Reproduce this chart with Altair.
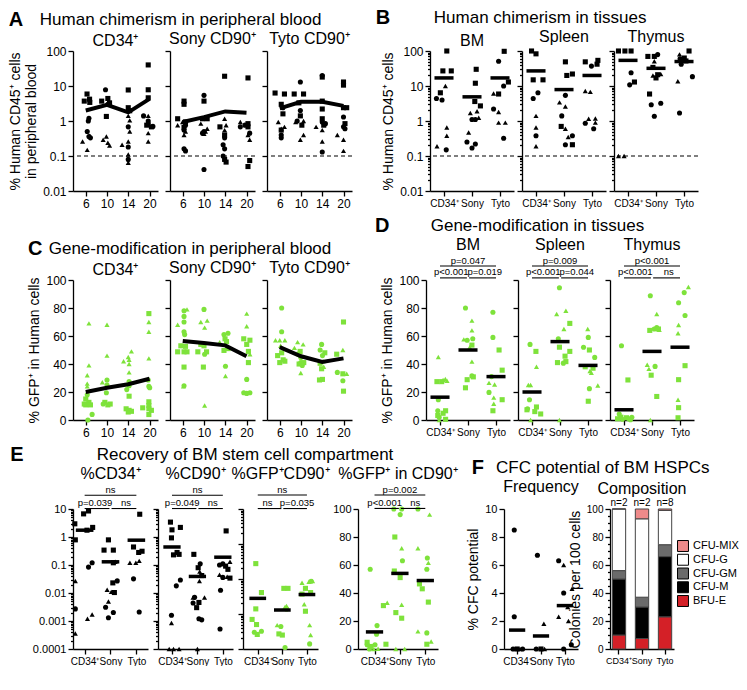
import json
import altair as alt
import pandas as pd

FONT = "Liberation Sans, Arial, Helvetica, sans-serif"
GREEN = "#7ee23b"
SP = "\u207a"

WEEK_LABELS = ["6", "10", "14", "20"]
GROUP_LABELS = ["CD34" + SP, "Sony", "Tyto"]

# ---------------- Panel A: human chimerism in peripheral blood (group, jitter, value, shape)
A_CD34 = [
    (0, -0.07, 3.7, "s"), (0, 0.18, 4.2, "s"), (0, 0.19, 3.4, "s"), (0, 0.06, 5.9, "s"), (0, 0.15, 1.2, "c"),
    (0, 0.12, 1.0, "c"), (0, 0.07, 0.5, "c"), (0, 0.15, 0.36, "c"), (0, 0.22, 0.33, "c"), (0, -0.15, 0.26, "t"),
    (0, 0.19, 0.38, "t"), (0, 0.07, 0.15, "t"),
    (1, -0.25, 3.7, "s"), (1, 0.04, 4.4, "s"), (1, 0.12, 3.3, "s"), (1, -0.03, 1.35, "s"), (1, -0.07, 7.8, "c"),
    (1, 0.04, 3.0, "c"), (1, -0.18, 0.29, "t"), (1, 0.04, 0.24, "t"), (1, 0.12, 0.2, "t"), (1, -0.03, 0.36, "t"),
    (2, 0, 7.7, "s"), (2, 0, 2.4, "s"), (2, 0.07, 1.96, "s"), (2, 0, 0.68, "c"), (2, 0, 0.18, "c"), (2, 0, 0.08, "c"),
    (2, 0, 1.4, "t"), (2, 0.07, 1.04, "t"), (2, 0.07, 0.5, "t"), (2, -0.29, 0.21, "t"), (2, 0, 0.26, "t"),
    (2, 0, 0.11, "t"), (2, 0, 0.064, "t"),
    (3, -0.06, 40, "s"), (3, -0.06, 7.8, "s"), (3, -0.06, 4.6, "s"), (3, 0.09, 0.68, "s"), (3, -0.13, 0.76, "s"),
    (3, -0.28, 1.4, "c"), (3, -0.06, 1.0, "c"), (3, -0.06, 0.85, "c"), (3, 0.16, 0.7, "c"), (3, -0.06, 1.4, "t"),
    (3, -0.06, 0.45, "t"), (3, -0.06, 0.26, "t"),
]
A_SONY = [
    (0, -0.24, 1.16, "s"), (0, 0.06, 3.7, "s"), (0, 0.06, 3.0, "s"), (0, 0.13, 0.94, "s"), (0, 0.06, 0.66, "s"),
    (0, 0.13, 0.76, "c"), (0, 0.06, 0.55, "c"), (0, 0.13, 0.14, "c"), (0, 0.06, 0.16, "c"), (0, -0.24, 0.76, "t"),
    (0, 0.06, 0.4, "t"), (0, 0.13, 0.5, "t"), (0, -0.01, 0.94, "t"),
    (1, 0, 3.7, "s"), (1, -0.07, 1.16, "s"), (1, 0.15, 1.16, "s"), (1, 0, 5.4, "c"), (1, 0, 0.5, "c"),
    (1, -0.07, 0.45, "c"), (1, 0, 0.041, "c"), (1, -0.15, 0.84, "t"), (1, 0.07, 0.5, "t"), (1, 0.15, 0.6, "t"),
    (1, 0, 0.43, "t"),
    (2, -0.03, 19, "s"), (2, -0.25, 0.68, "s"), (2, -0.03, 0.4, "s"), (2, -0.03, 0.08, "s"), (2, 0.04, 0.067, "s"),
    (2, -0.03, 0.33, "c"), (2, -0.1, 0.21, "c"), (2, -0.03, 0.16, "c"), (2, -0.1, 0.1, "c"), (2, -0.03, 1.16, "t"),
    (2, 0.04, 0.76, "t"), (2, -0.03, 0.55, "t"),
    (3, 0.07, 17, "s"), (3, 0.07, 0.84, "s"), (3, 0.07, 0.68, "s"), (3, 0.07, 0.05, "s"), (3, 0.15, 0.074, "s"),
    (3, -0.29, 0.68, "c"), (3, -0.07, 0.76, "c"), (3, 0.15, 0.45, "c"), (3, -0.29, 0.94, "t"), (3, 0.07, 0.4, "t"),
    (3, 0.15, 0.29, "t"),
]
A_TYTO = [
    (0, -0.22, 6.3, "s"), (0, 0.22, 5.9, "s"), (0, 0.07, 3.0, "s"), (0, 0.15, 1.6, "s"), (0, 0.07, 0.55, "s"),
    (0, 0.15, 2.4, "c"), (0, 0.07, 0.4, "c"), (0, 0.07, 0.33, "c"), (0, -0.07, 0.94, "t"), (0, 0.07, 0.6, "t"),
    (0, 0.22, 0.68, "t"),
    (1, -0.32, 5.9, "s"), (1, 0.12, 5.9, "s"), (1, -0.1, 3.3, "s"), (1, -0.03, 1.4, "s"), (1, 0.04, 0.76, "s"),
    (1, -0.03, 13, "c"), (1, -0.03, 2.0, "c"), (1, -0.18, 1.0, "c"), (1, -0.25, 0.94, "t"), (1, 0.12, 1.0, "t"),
    (1, 0.12, 0.4, "t"), (1, -0.03, 0.29, "t"),
    (2, 0, 18, "s"), (2, 0, 3.7, "s"), (2, 0, 2.2, "s"), (2, 0, 1.16, "s"), (2, 0.07, 0.76, "s"), (2, 0, 20, "c"),
    (2, 0, 0.94, "c"), (2, 0, 0.13, "c"), (2, 0.15, 0.84, "c"), (2, -0.29, 0.68, "t"), (2, 0, 0.55, "t"),
    (2, 0, 0.26, "t"),
    (3, 0, 13, "s"), (3, 0, 10.6, "s"), (3, 0, 2.4, "s"), (3, 0.15, 2.4, "s"), (3, 0.07, 0.84, "s"), (3, 0, 1.3, "c"),
    (3, 0, 0.68, "c"), (3, 0.07, 0.6, "c"), (3, -0.29, 0.4, "t"), (3, 0, 0.29, "t"), (3, 0, 0.14, "t"),
]
A_LINE_CD34 = [2.0, 2.9, 1.77, 4.3]
A_LINE_SONY = [0.94, 1.29, 1.88, 1.73]
A_LINE_TYTO = [2.3, 3.55, 3.55, 2.7]

# ---------------- Panel B: human chimerism in tissues
B_BM = [
    (0, 0.1, 100, "s"), (0, -0.04, 27, "s"), (0, 0.26, 27, "s"), (0, -0.27, 4.4, "c"), (0, -0.07, 4.0, "c"),
    (0, -0.13, 6.4, "s"), (0, 0.05, 10, "t"), (0, -0.25, 0.19, "t"), (0, 0.1, 0.65, "t"), (0, 0.1, 0.38, "t"),
    (0, 0.08, 0.15, "c"),
    (1, 0.15, 30, "s"), (1, 0.12, 12, "s"), (1, -0.06, 1.7, "t"), (1, 0.1, 3.6, "s"), (1, 0.3, 2.7, "s"),
    (1, 0.18, 1.9, "t"), (1, 0.0, 1.1, "c"), (1, 0.12, 1.1, "c"), (1, 0.24, 1.24, "t"), (1, -0.12, 0.47, "t"),
    (1, -0.18, 0.25, "c"), (1, 0.0, 0.17, "c"), (1, 0.12, 0.22, "c"),
    (2, 0.15, 98, "s"), (2, -0.05, 51, "c"), (2, 0.3, 13, "s"), (2, -0.23, 6.1, "t"), (2, -0.05, 5.9, "s"),
    (2, -0.23, 2.2, "c"), (2, -0.05, 1.8, "t"), (2, -0.05, 0.9, "t"), (2, 0.19, 0.9, "t"), (2, 0.13, 0.32, "c"),
    (2, 0.13, 10, "c"),
]
B_SPLEEN = [
    (0, -0.16, 100, "s"), (0, 0, 83, "s"), (0, -0.1, 4.4, "c"), (0, -0.1, 15, "s"), (0, 0.25, 15, "s"),
    (0, 0.07, 6.4, "c"), (0, 0, 1.4, "t"), (0, 0, 0.65, "t"), (0, 0, 0.38, "c"), (0, 0, 0.19, "t"),
    (1, 0.05, 49, "s"), (1, -0.16, 3.4, "t"), (1, 0.05, 5.4, "c"), (1, 0.1, 20, "s"), (1, 0.3, 22, "s"),
    (1, 0.05, 2.6, "t"), (1, -0.08, 1.4, "c"), (1, -0.1, 0.7, "s"), (1, 0.05, 0.6, "t"), (1, 0.15, 0.35, "t"),
    (1, 0.3, 0.38, "c"), (1, 0.05, 0.21, "c"), (1, 0.3, 0.21, "s"),
    (2, -0.24, 49, "s"), (2, -0.02, 37, "c"), (2, 0.18, 42, "s"), (2, 0.21, 54, "s"), (2, -0.24, 7.2, "t"),
    (2, -0.06, 6.8, "t"), (2, -0.24, 0.86, "c"), (2, -0.12, 1.16, "t"), (2, 0.12, 1.18, "t"), (2, 0.06, 0.6, "c"),
    (2, 0.12, 0.9, "t"),
]
B_THYMUS = [
    (0, -0.34, 100, "s"), (0, -0.11, 100, "s"), (0, 0.11, 100, "s"), (0, 0.11, 24, "c"), (0, 0.06, 10.8, "c"),
    (0, 0.23, 13, "s"), (0, -0.34, 0.1, "t"), (0, -0.14, 0.1, "t"),
    (1, -0.29, 70, "s"), (1, -0.06, 70, "s"), (1, 0.06, 79, "c"), (1, -0.06, 51, "t"), (1, -0.11, 34, "s"),
    (1, -0.11, 20, "t"), (1, 0.06, 21, "s"), (1, 0.17, 22, "t"), (1, 0.0, 17, "s"), (1, -0.23, 5.9, "s"),
    (1, -0.17, 2.9, "c"), (1, 0.17, 3.2, "c"), (1, -0.06, 1.37, "c"),
    (2, -0.16, 80, "t"), (2, 0.01, 63, "s"), (2, -0.14, 60, "c"), (2, 0.18, 100, "s"), (2, -0.1, 42, "c"),
    (2, 0.07, 52, "s"), (2, -0.22, 13.7, "t"), (2, 0.3, 18.5, "c"), (2, -0.16, 1.7, "c"),
]
B_MED_BM = [17, 4.9, 17]
B_MED_SPLEEN = [27, 7.9, 20]
B_MED_THYMUS = [54, 32, 50]

# ---------------- Panel C: gene modification in peripheral blood
C_CD34 = [
    (0, 0.15, 69, "t"), (0, 0.15, 39, "t"), (0, 0.07, 32, "t"), (0, 0.07, 26, "t"), (0, 0.07, 24, "t"),
    (0, 0.07, 18, "c"), (0, 0, 15, "s"), (0, 0.15, 12.6, "s"), (0, 0.07, 11.4, "c"), (0, 0, 10.8, "s"),
    (0, 0.22, 10.8, "s"), (0, 0.3, 4, "c"), (0, 0.1, 0, "c"), (0, -0.07, 11.4, "s"),
    (1, 0, 68, "t"), (1, 0, 46, "t"), (1, -0.22, 27, "t"), (1, 0, 28.6, "c"), (1, 0, 25, "c"), (1, -0.03, 19.5, "c"),
    (1, -0.1, 12.6, "s"), (1, 0.04, 10.8, "s"), (1, -0.18, 11.4, "c"), (1, 0.15, 11.4, "s"),
    (2, -0.22, 42, "t"), (2, 0.04, 43, "t"), (2, 0.15, 49, "t"), (2, 0, 45, "t"), (2, 0.04, 40, "t"),
    (2, 0.04, 34, "t"), (2, 0.04, 24.5, "c"), (2, 0.04, 27.5, "c"), (2, -0.07, 21.7, "c"), (2, 0.04, 17, "s"),
    (2, -0.1, 8, "s"), (2, 0.04, 6.9, "s"), (2, 0.15, 6.2, "s"), (2, 0, 5.7, "s"),
    (3, -0.03, 76, "s"), (3, -0.03, 70, "t"), (3, -0.03, 63, "t"), (3, -0.03, 44, "t"), (3, -0.06, 28.6, "c"),
    (3, -0.03, 24, "c"), (3, 0.01, 23, "c"), (3, -0.03, 13, "s"), (3, -0.03, 10.3, "s"), (3, -0.03, 8, "s"),
    (3, -0.32, 8.7, "s"), (3, 0.09, 6.9, "s"), (3, -0.03, 3.9, "s"),
]
C_SONY = [
    (0, -0.24, 68, "t"), (0, 0.06, 78, "c"), (0, 0.2, 79, "t"), (0, 0.06, 74, "c"), (0, 0.06, 70, "c"),
    (0, 0.06, 63, "c"), (0, 0.09, 61, "c"), (0, -0.09, 53, "s"), (0, 0.13, 52.6, "s"), (0, -0.24, 48.7, "s"),
    (0, 0.06, 48.7, "s"), (0, 0.2, 48.7, "s"), (0, 0.06, 37.8, "s"), (0, 0.03, 24, "t"), (0, 0.06, 24.5, "c"),
    (1, 0, 79, "c"), (1, -0.15, 70, "t"), (1, 0.15, 71, "t"), (1, 0.03, 66, "t"), (1, -0.29, 48.7, "s"),
    (1, 0, 53, "s"), (1, 0.03, 47, "c"), (1, 0.12, 48.7, "s"), (1, -0.03, 37.8, "s"), (1, 0.03, 10.3, "t"),
    (1, -0.15, 54, "s"),
    (2, -0.26, 55.6, "t"), (2, -0.06, 61, "c"), (2, 0.13, 62, "c"), (2, -0.01, 58, "s"), (2, 0.06, 56, "s"),
    (2, -0.06, 49.7, "s"), (2, 0.01, 38.4, "c"), (2, 0.01, 31.4, "t"), (2, 0.13, 51, "s"),
    (3, 0.01, 76, "t"), (3, 0.01, 67, "t"), (3, -0.13, 58, "s"), (3, 0.16, 57, "s"), (3, 0.01, 54, "s"),
    (3, 0.09, 49, "s"), (3, 0.16, 47, "t"), (3, 0.09, 41, "s"), (3, 0.01, 29, "c"), (3, -0.13, 19.5, "c"),
    (3, 0.01, 19, "c"), (3, 0.16, 19.5, "c"),
]
C_TYTO = [
    (0, 0.09, 80, "c"), (0, 0.09, 63, "c"), (0, -0.2, 57, "t"), (0, 0, 57, "t"), (0, 0.24, 57, "t"),
    (0, -0.1, 46, "s"), (0, 0.09, 48, "s"), (0, 0.16, 43, "s"), (0, 0, 41, "s"), (0, 0.24, 42, "s"), (0, 0.04, 53, "t"),
    (1, -0.16, 55.6, "t"), (1, 0.1, 54, "t"), (1, -0.31, 51.5, "t"), (1, -0.04, 49, "s"), (1, -0.09, 47, "s"),
    (1, -0.01, 44.6, "c"), (1, -0.01, 41, "c"), (1, -0.09, 40, "s"), (1, 0.06, 39, "c"), (1, -0.01, 33.6, "t"),
    (1, 0.13, 41, "s"),
    (2, -0.03, 54, "c"), (2, -0.1, 50, "c"), (2, 0.12, 48, "s"), (2, 0.01, 46, "c"), (2, 0.04, 42, "t"),
    (2, -0.1, 40.5, "s"), (2, 0.07, 38, "t"), (2, -0.03, 36.6, "s"), (2, 0.01, 29, "s"), (2, -0.13, 28.6, "s"),
    (3, 0, 70, "s"), (3, -0.03, 50, "t"), (3, -0.32, 47, "s"), (3, -0.29, 34, "c"), (3, -0.03, 33, "s"),
    (3, 0.15, 33, "t"), (3, -0.03, 28, "c"), (3, 0, 20.6, "s"),
]
C_LINE_CD34 = [20, 23, 25.5, 29.5]
C_LINE_SONY = [56.5, 55, 53.3, 45.5]
C_LINE_TYTO = [52, 45.5, 41.5, 44]

# ---------------- Panel D: gene modification in tissues
D_BM = [
    (0, -0.06, 45, "t"), (0, -0.11, 27.4, "s"), (0, 0.06, 27.4, "s"), (0, 0.11, 28.6, "t"), (0, 0.19, 29.3, "t"),
    (0, 0.25, 28, "t"), (0, -0.06, 14.5, "c"), (0, -0.08, 6.6, "c"), (0, -0.08, 3.2, "s"), (0, 0.11, 4.8, "s"),
    (0, 0.2, 6.6, "s"), (0, -0.03, 0, "t"), (0, 0.2, 0.5, "s"), (0, -0.03, 2, "c"),
    (1, -0.09, 80, "c"), (1, 0.14, 71, "t"), (1, 0.14, 64, "t"), (1, -0.15, 57.6, "t"), (1, -0.03, 57, "c"),
    (1, 0.17, 58, "c"), (1, 0.06, 52, "t"), (1, 0.14, 53.5, "s"), (1, 0.14, 41.7, "t"), (1, 0.14, 31.5, "c"),
    (1, 0.19, 30.8, "s"), (1, -0.03, 28.8, "s"), (1, -0.09, 23, "s"),
    (2, -0.11, 77, "c"), (2, -0.11, 59, "c"), (2, 0.11, 50, "s"), (2, 0.22, 35.6, "s"), (2, -0.25, 26.5, "t"),
    (2, -0.16, 31, "c"), (2, -0.05, 25.4, "t"), (2, -0.25, 19.7, "c"), (2, -0.08, 16, "t"), (2, -0.08, 11.6, "t"),
    (2, 0.22, 14.5, "s"), (2, -0.11, 6.6, "s"),
]
D_SPLEEN = [
    (0, -0.07, 54, "c"), (0, 0.14, 49, "s"), (0, 0.16, 38, "t"), (0, -0.13, 25, "t"), (0, -0.05, 25, "t"),
    (0, -0.09, 14.5, "c"), (0, -0.16, 8, "c"), (0, 0.16, 9.3, "s"), (0, 0.1, 6, "s"), (0, 0.31, 4.3, "s"),
    (0, -0.18, 7.3, "s"), (0, -0.05, 0, "t"),
    (1, -0.02, 94.5, "c"), (1, -0.12, 75.7, "t"), (1, 0.21, 78, "t"), (1, 0.14, 65, "t"), (1, 0.35, 69, "s"),
    (1, -0.02, 52, "s"), (1, -0.06, 58, "c"), (1, 0.35, 49, "s"), (1, 0.18, 45.6, "s"), (1, 0.12, 40.6, "c"),
    (1, -0.09, 41, "s"), (1, 0.21, 41.7, "s"), (1, -0.02, 0, "t"),
    (2, -0.01, 65, "t"), (2, 0.01, 59, "c"), (2, -0.16, 52, "c"), (2, 0.05, 50, "s"), (2, 0.24, 44.7, "c"),
    (2, -0.1, 38, "s"), (2, 0.07, 35, "t"), (2, 0.12, 33.8, "t"), (2, 0.18, 37, "s"), (2, 0.05, 22.4, "c"),
    (2, 0.35, 24.7, "t"), (2, 0.01, 13.4, "s"),
]
D_THYMUS = [
    (0, -0.09, 53, "c"), (0, 0.14, 28.6, "s"), (0, -0.17, 4.3, "c"), (0, -0.11, 2, "s"), (0, -0.06, 0.5, "c"),
    (0, 0.09, 1.6, "s"), (0, 0.17, 0.9, "c"), (0, 0.28, 2, "c"), (0, 0.23, 0.2, "c"), (0, -0.23, 0.9, "s"),
    (1, -0.06, 88.7, "c"), (1, 0.17, 75.7, "t"), (1, -0.08, 64, "s"), (1, 0.08, 65, "c"), (1, 0.17, 66, "c"),
    (1, 0.26, 64.4, "t"), (1, 0.23, 65, "s"), (1, -0.17, 39.5, "t"), (1, 0.11, 38.3, "c"), (1, -0.11, 36.5, "t"),
    (1, -0.03, 32, "s"), (1, 0.17, 16.8, "s"), (1, -0.06, 0, "t"),
    (2, 0.3, 95, "t"), (2, 0.15, 91, "c"), (2, -0.05, 83.7, "c"), (2, 0.18, 74.6, "c"), (2, -0.05, 67.8, "t"),
    (2, -0.07, 62, "t"), (2, 0.18, 38.8, "s"), (2, -0.05, 28.8, "s"), (2, -0.07, 14.5, "t"), (2, -0.05, 8.8, "s"),
    (2, -0.07, 1.6, "s"),
]
D_MED_BM = [16.3, 50, 31]
D_MED_SPLEEN = [20, 56, 39]
D_MED_THYMUS = [7.3, 49, 52]
D_P_BM = ["p=0.047", "p<0.001", "p=0.019"]
D_P_SPLEEN = ["p=0.009", "p<0.001", "p=0.044"]
D_P_THYMUS = ["p<0.001", "p<0.001", "ns"]

# ---------------- Panel E: recovery of BM stem cell compartment
E_CD34 = [
    (0, -0.38, 2.96, "s"), (0, -0.36, 0.79, "s"), (0, 0.15, 8.5, "s"), (0, -0.04, 6.7, "s"), (0, 0.31, 2.2, "s"),
    (0, 0.09, 1.75, "s"), (0, 0.15, 0.084, "c"), (0, 0.29, 0.12, "c"), (0, -0.36, 0.027, "t"),
    (0, -0.36, 0.0027, "c"), (0, 0.11, 0.0012, "t"), (0, 0.29, 0.0017, "t"), (0, -0.36, 0.00036, "t"),
    (1, -0.08, 0.79, "s"), (1, -0.25, 0.34, "s"), (1, 0.11, 0.34, "s"), (1, 0.11, 0.12, "s"), (1, 0.18, 0.13, "t"),
    (1, 0.09, 0.023, "s"), (1, 0.26, 0.027, "c"), (1, -0.13, 0.013, "t"), (1, 0.03, 0.011, "t"),
    (1, 0.15, 0.0104, "s"), (1, -0.08, 0.005, "t"), (1, -0.19, 0.0031, "c"), (1, -0.08, 0.0013, "c"),
    (1, 0.11, 0.002, "c"),
    (2, 0.13, 6.5, "s"), (2, -0.11, 0.44, "s"), (2, 0.09, 0.28, "s"), (2, 0.22, 0.31, "s"), (2, -0.25, 0.12, "t"),
    (2, -0.02, 0.12, "t"), (2, 0.11, 0.14, "t"), (2, -0.11, 0.032, "c"), (2, 0.11, 0.0021, "c"),
]
E_CD90 = [
    (0, -0.02, 0.93, "s"), (0, 0, 1.8, "s"), (0, -0.06, 3.4, "s"), (0, 0.33, 2.2, "s"), (0, 0.2, 0.28, "s"),
    (0, 0.28, 0.24, "s"), (0, 0.06, 0.23, "s"), (0, 0.33, 0.029, "c"), (0, 0.17, 0.018, "c"),
    (0, -0.02, 0.0016, "c"), (0, -0.02, 0.00085, "t"), (0, -0.11, 0.0001, "t"), (0, 0.06, 0.0001, "t"),
    (0, 0.28, 0.0001, "t"),
    (1, -0.14, 0.24, "s"), (1, 0.11, 0.11, "c"), (1, 0.03, 0.08, "s"), (1, 0.09, 0.058, "t"), (1, 0.17, 0.042, "s"),
    (1, 0.08, 0.027, "t"), (1, -0.17, 0.0069, "t"), (1, -0.11, 0.007, "c"), (1, 0.28, 0.0069, "t"),
    (1, 0.06, 0.0046, "s"), (1, -0.17, 0.0044, "c"), (1, -0.03, 0.003, "s"), (1, 0.06, 0.0012, "c"),
    (1, 0.17, 0.0011, "c"), (1, 0, 0.0001, "t"),
    (2, 0.13, 1.65, "s"), (2, 0.28, 0.13, "t"), (2, -0.13, 0.1, "c"), (2, 0, 0.11, "c"), (2, 0.11, 0.091, "s"),
    (2, 0.2, 0.07, "s"), (2, -0.13, 0.045, "t"), (2, 0, 0.036, "c"), (2, 0.17, 0.038, "t"), (2, -0.09, 0.0125, "c"),
    (2, -0.11, 0.00052, "c"), (2, 0.28, 0.034, "s"),
]
E_GFPCD90 = [
    (0, -0.08, 0.0275, "s"), (0, 0.15, 0.0041, "s"), (0, -0.08, 0.0014, "s"), (0, -0.23, 0.0007, "s"),
    (0, -0.05, 0.0005, "s"), (0, -0.14, 0.0003, "c"), (0, -0.02, 0.00026, "s"), (0, 0.15, 0.00032, "c"),
    (1, 0.06, 0.0054, "s"), (1, 0.23, 0.0054, "s"), (1, 0.17, 0.0017, "t"), (1, 0.11, 0.0016, "t"),
    (1, 0.17, 0.0014, "c"), (1, -0.21, 0.00048, "t"), (1, -0.06, 0.00044, "c"), (1, -0.14, 0.00027, "s"),
    (1, 0, 0.00025, "s"), (1, 0.11, 0.00011, "c"),
    (2, -0.2, 0.0078, "t"), (2, 0.08, 0.0083, "t"), (2, 0.23, 0.0088, "t"), (2, 0.17, 0.0086, "c"),
    (2, -0.06, 0.0054, "s"), (2, 0.15, 0.0041, "s"), (2, -0.2, 0.0037, "s"), (2, -0.11, 0.0019, "t"),
    (2, -0.06, 0.0012, "s"), (2, 0.11, 0.00048, "t"), (2, 0.15, 0.00025, "t"), (2, 0.11, 0.00014, "c"),
]
E_GFP_IN_CD90 = [
    (0, -0.17, 57, "c"), (0, 0.35, 31, "s"), (0, 0.5, 33, "t"), (0, 0.1, 16.7, "c"), (0, 0.08, 10.5, "c"),
    (0, -0.29, 4.8, "s"), (0, -0.15, 1.8, "s"), (0, -0.29, 3, "c"), (0, 0.02, 3, "c"), (0, 0.45, 3.4, "s"),
    (0, 0.14, 0.2, "t"), (0, -0.2, 0, "c"), (0, -0.03, 0, "t"),
    (1, -0.24, 100, "c"), (1, 0.07, 100, "c"), (1, 0.01, 96, "c"), (1, -0.2, 80, "s"), (1, 0.07, 72, "t"),
    (1, 0.1, 63, "c"), (1, -0.22, 55.7, "s"), (1, 0.01, 51, "s"), (1, 0.07, 31.6, "t"), (1, -0.16, 26, "s"),
    (1, 0.07, 22, "s"), (1, -0.16, 0, "t"), (1, 0.19, 0, "t"),
    (2, -0.29, 100, "c"), (2, 0.17, 96, "t"), (2, -0.29, 72, "t"), (2, 0.08, 65, "c"), (2, 0.06, 57, "c"),
    (2, 0.12, 61.5, "t"), (2, -0.23, 46.5, "s"), (2, -0.12, 43, "s"), (2, 0.12, 33.5, "s"), (2, -0.29, 12.6, "t"),
    (2, 0.06, 11.5, "c"), (2, 0.06, 3.4, "s"), (2, 0.23, 5.3, "t"),
]
E_MED_CD34 = [1.75, 0.13, 0.77]
E_MED_CD90 = [0.44, 0.039, 0.19]
E_MED_GFPCD90 = [0.0028, 0.0013, 0.0036]
E_MED_GFP_IN_CD90 = [12.2, 54, 48.9]
E_P_CD34 = ["ns", "p=0.039", "ns"]
E_P_CD90 = ["ns", "p=0.049", "ns"]
E_P_GFPCD90 = ["ns", "ns", "p=0.035"]
E_P_GFP_IN_CD90 = ["p=0.002", "p<0.001", "ns"]

# ---------------- Panel F: CFC potential
F_FREQ = [
    (0, -0.12, 8.5, "c"), (0, -0.12, 2.3, "c"), (0, -0.17, 0, "c"), (0, 0, 0, "s"), (0, 0.12, 0, "t"), (0, 0.23, 0, "c"),
    (1, -0.15, 6.7, "c"), (1, 0.12, 1.8, "t"), (1, -0.2, 0, "c"), (1, 0, 0, "s"), (1, 0.15, 0, "t"),
    (2, -0.26, 6.3, "c"), (2, -0.05, 6.0, "t"), (2, 0.3, 4.3, "t"), (2, -0.05, 4.0, "c"), (2, -0.26, 2.3, "t"),
    (2, 0.15, 2.0, "t"), (2, 0.12, 3.0, "t"), (2, 0.27, 0.3, "c"), (2, -0.05, 0, "c"),
]
F_MED = [1.35, 0.93, 3.1]
COLONY_TYPES = ["BFU-E", "CFU-M", "CFU-GM", "CFU-G", "CFU-MIX"]
COLONY_COLORS = ["#d42027", "#000000", "#6b6b6b", "#ffffff", "#ee8a8a"]
BFU_E = [10, 7.5, 23]
CFU_M = [40, 22.5, 43]
CFU_GM = [6, 7, 8.5]
CFU_G = [44, 56, 24.5]
CFU_MIX = [0, 7, 1]
N_LABELS = ["n=2", "n=2", "n=8"]

# ---------------- helpers
SHAPE_SCALE = alt.Scale(domain=["c", "s", "t"], range=["circle", "square", "triangle-up"])
MAJOR = "abs(log(datum.value)/LN10 - round(log(datum.value)/LN10)) < 0.01"


def log_axis(lo, hi, minor, labels, title=None, label_size=12):
    vals = []
    for e in range(lo, hi):
        for k in (range(1, 10) if minor else [1]):
            vals.append(float(f"{k}e{e}"))
    vals.append(float(f"1e{hi}"))
    kw = dict(values=vals, labels=labels, title=title, labelOverlap=False, labelFlush=False,
              labelFontSize=label_size)
    if minor:
        kw["tickSize"] = {"condition": {"test": MAJOR, "value": 5}, "value": 2.5}
    if labels:
        kw["labelExpr"] = f"{MAJOR} ? format(datum.value, '~g') : ''"
    return alt.Axis(**kw)


def lin_axis(hi, step, labels, title=None, minor=None, label_size=12):
    kw = dict(labels=labels, title=title, labelOverlap=False, labelFlush=False, labelFontSize=label_size)
    if minor:
        n = int(round(hi / minor))
        kw["values"] = [i * minor for i in range(n + 1)]
        test = f"datum.value % {step} == 0"
        kw["tickSize"] = {"condition": {"test": test, "value": 5}, "value": 2.5}
        if labels:
            kw["labelExpr"] = f"{test} ? datum.label : ''"
    else:
        n = int(round(hi / step))
        kw["values"] = [i * step for i in range(n + 1)]
    return alt.Axis(**kw)


def panel(points, color, yscale, yaxis, xdomain, xlabels, width, height, title,
          xlabel_size=12, line=None, medians=None, annots=None, dash=None, title_offset=3):
    df = pd.DataFrame(points, columns=["g", "dx", "v", "s"])
    df["x"] = df["g"] + df["dx"]
    xscale = alt.Scale(domain=xdomain, nice=False, zero=False)
    xaxis = alt.Axis(values=list(range(len(xlabels))),
                     labelExpr=json.dumps(xlabels, ensure_ascii=False) + "[datum.value]",
                     title=None, labelFontSize=xlabel_size, labelFlush=False, labelOverlap=False)

    def X(f):
        return alt.X(f, scale=xscale, axis=xaxis)

    def Y(f):
        return alt.Y(f, scale=yscale, axis=yaxis)

    layers = []
    if dash is not None:
        layers.append(alt.Chart(pd.DataFrame({"v": [dash]})).mark_rule(
            color="black", strokeDash=[4, 3], strokeWidth=1.2).encode(y=Y("v:Q")))
    layers.append(alt.Chart(df).mark_point(filled=True, size=26, opacity=1, color=color).encode(
        x=X("x:Q"), y=Y("v:Q"), shape=alt.Shape("s:N", scale=SHAPE_SCALE, legend=None)))
    if line is not None:
        dl = pd.DataFrame({"x": list(range(len(line))), "v": line})
        layers.append(alt.Chart(dl).mark_line(color="black", strokeWidth=4).encode(x=X("x:Q"), y=Y("v:Q")))
    if medians is not None:
        dm = pd.DataFrame({"g": list(range(len(medians))), "v": medians})
        layers.append(alt.Chart(dm).transform_calculate(
            x1="datum.g - 0.34", x2="datum.g + 0.34").mark_rule(color="black", strokeWidth=3.5).encode(
            x=X("x1:Q"), x2="x2:Q", y=Y("v:Q")))
    if annots is not None:
        da = pd.DataFrame(annots, columns=["x1", "x2", "y", "tx", "label"])
        layers.append(alt.Chart(da).mark_rule(color="black", strokeWidth=1.1).encode(
            x=X("x1:Q"), x2="x2:Q", y=Y("y:Q")))
        layers.append(alt.Chart(da).mark_text(
            fontSize=9.5, baseline="bottom", dy=-0.5, color="black").encode(
            x=X("tx:Q"), y=Y("y:Q"), text="label:N"))
    return alt.layer(*layers).properties(
        width=width, height=height,
        title=alt.TitleParams(title, fontSize=16, offset=title_offset, fontWeight="normal"))


def annots3(labels, ylow, yup):
    return [(0, 2, yup, 1.0, labels[0]), (0, 0.96, ylow, 0.4, labels[1]), (1.04, 2, ylow, 1.6, labels[2])]


def letter_title(letter, dx=0):
    return alt.TitleParams(letter, orient="top", anchor="start", fontSize=20, fontWeight="bold",
                           offset=-19, dx=dx)


def group_title(text):
    return alt.TitleParams(text, fontSize=17, offset=2, fontWeight="normal", anchor="middle")


def group(charts, spacing, text, letter, letter_dx=0):
    inner = alt.hconcat(*charts, spacing=spacing, bounds="flush").properties(title=group_title(text))
    return alt.vconcat(inner).properties(title=letter_title(letter, letter_dx))


H = 140
A_W, B_W = 85, 84
XD_W = [-0.6, 3.4]
XD_G = [-0.5, 2.5]
LBL_OFF = -4  # subtitle offset above panels whose top y label sticks out

# ---------------- Row 1
a_log = alt.Scale(type="log", domain=[0.01, 100], nice=False)
a1 = panel(A_CD34, "black", a_log, log_axis(-2, 2, False, True, ["% Human CD45" + SP + " cells", "in peripheral blood"]),
           XD_W, WEEK_LABELS, A_W, H, "CD34" + SP, line=A_LINE_CD34, dash=0.1, title_offset=LBL_OFF)
a2 = panel(A_SONY, "black", a_log, log_axis(-2, 2, False, False), XD_W, WEEK_LABELS, A_W, H,
           "Sony CD90" + SP, line=A_LINE_SONY, dash=0.1)
a3 = panel(A_TYTO, "black", a_log, log_axis(-2, 2, False, False), XD_W, WEEK_LABELS, A_W, H,
           "Tyto CD90" + SP, line=A_LINE_TYTO, dash=0.1)
rowA = group([a1, a2, a3], 12, "Human chimerism in peripheral blood", "A")

b1 = panel(B_BM, "black", a_log, log_axis(-2, 2, True, True, "% Human CD45" + SP + " cells"), XD_G, GROUP_LABELS,
           B_W, H, "BM", xlabel_size=10, medians=B_MED_BM, dash=0.1, title_offset=LBL_OFF)
b2 = panel(B_SPLEEN, "black", a_log, log_axis(-2, 2, True, False), XD_G, GROUP_LABELS, B_W, H, "Spleen",
           xlabel_size=10, medians=B_MED_SPLEEN, dash=0.1)
b3 = panel(B_THYMUS, "black", a_log, log_axis(-2, 2, True, False), XD_G, GROUP_LABELS, B_W, H, "Thymus",
           xlabel_size=10, medians=B_MED_THYMUS, dash=0.1)
rowB = group([b1, b2, b3], 8, "Human chimerism in tissues", "B", letter_dx=-6)

row1 = alt.concat(rowA, rowB, columns=2, spacing=22, align="none")

# ---------------- Row 2
c_lin = alt.Scale(domain=[0, 100], nice=False)
c1 = panel(C_CD34, GREEN, c_lin, lin_axis(100, 20, True, "% GFP" + SP + " in Human cells"), XD_W, WEEK_LABELS,
           A_W, H, "CD34" + SP, line=C_LINE_CD34, title_offset=LBL_OFF)
c2 = panel(C_SONY, GREEN, c_lin, lin_axis(100, 20, False), XD_W, WEEK_LABELS, A_W, H, "Sony CD90" + SP,
           line=C_LINE_SONY)
c3 = panel(C_TYTO, GREEN, c_lin, lin_axis(100, 20, False), XD_W, WEEK_LABELS, A_W, H, "Tyto CD90" + SP,
           line=C_LINE_TYTO)
rowC = group([c1, c2, c3], 12, "Gene-modification in peripheral blood", "C")

d1 = panel(D_BM, GREEN, c_lin, lin_axis(100, 20, True, "% GFP" + SP + " in Human cells"), XD_G, GROUP_LABELS,
           B_W, H, "BM", xlabel_size=10, medians=D_MED_BM, annots=annots3(D_P_BM, 101.5, 110))
d2 = panel(D_SPLEEN, GREEN, c_lin, lin_axis(100, 20, False), XD_G, GROUP_LABELS, B_W, H, "Spleen",
           xlabel_size=10, medians=D_MED_SPLEEN, annots=annots3(D_P_SPLEEN, 101.5, 110))
d3 = panel(D_THYMUS, GREEN, c_lin, lin_axis(100, 20, False), XD_G, GROUP_LABELS, B_W, H, "Thymus",
           xlabel_size=10, medians=D_MED_THYMUS, annots=annots3(D_P_THYMUS, 101.5, 110))
rowD = group([d1, d2, d3], 8, "Gene-modification in tissues", "D", letter_dx=-6)

row2 = alt.concat(rowC, rowD, columns=2, spacing=22, align="none")

# ---------------- Row 3
e_log = alt.Scale(type="log", domain=[0.0001, 10], nice=False)
e3_log = alt.Scale(type="log", domain=[0.0001, 1], nice=False)
E_W = 75
e1 = panel(E_CD34, "black", e_log, log_axis(-4, 1, True, True, label_size=11), [-0.45, 2.45], GROUP_LABELS, E_W, H,
           "%CD34" + SP, xlabel_size=10, medians=E_MED_CD34, annots=annots3(E_P_CD34, 10.4, 31))
e2 = panel(E_CD90, "black", e_log, log_axis(-4, 1, True, False), [-0.55, 2.4], GROUP_LABELS, E_W, H,
           "%CD90" + SP, xlabel_size=10, medians=E_MED_CD90, annots=annots3(E_P_CD90, 10.4, 31))
e3 = panel(E_GFPCD90, GREEN, e3_log, log_axis(-4, 0, True, False), [-0.6, 2.45], GROUP_LABELS, E_W, H,
           "%GFP" + SP + "CD90" + SP, xlabel_size=10, medians=E_MED_GFPCD90,
           annots=annots3(E_P_GFPCD90, 1.03, 2.5))
e4 = panel(E_GFP_IN_CD90, GREEN, c_lin, lin_axis(100, 20, True, label_size=11), [-0.65, 2.5], GROUP_LABELS, 80, H,
           "%GFP" + SP + " in CD90" + SP, xlabel_size=10, medians=E_MED_GFP_IN_CD90,
           annots=annots3(E_P_GFP_IN_CD90, 100.4, 110))
e123 = alt.hconcat(e1, e2, e3, spacing=10, bounds="flush")
rowE = alt.vconcat(alt.hconcat(e123, e4, spacing=2).properties(
    title=group_title("Recovery of BM stem cell compartment"))).properties(title=letter_title("E", dx=-22))

f1 = panel(F_FREQ, "black", alt.Scale(domain=[0, 10], nice=False),
           lin_axis(10, 2, True, "% CFC potential", label_size=11),
           [-0.55, 2.55], GROUP_LABELS, 74, H, "Frequency", xlabel_size=10, medians=F_MED, title_offset=8)

comp_rows = []
for ti, (tname, vals) in enumerate(zip(COLONY_TYPES, [BFU_E, CFU_M, CFU_GM, CFU_G, CFU_MIX])):
    for ci, cat in enumerate(GROUP_LABELS):
        comp_rows.append({"cat": cat, "type": tname, "idx": ti, "val": vals[ci]})
comp_df = pd.DataFrame(comp_rows)
legend_order = COLONY_TYPES[::-1]
legend_colors = COLONY_COLORS[::-1]
color_scale = alt.Scale(domain=legend_order, range=legend_colors)
F2_W = 64
f2_x = alt.X("cat:N", sort=GROUP_LABELS, scale=alt.Scale(paddingInner=0.42, paddingOuter=0.1),
             axis=alt.Axis(labelAngle=0, title=None, labelFontSize=9))
f2_yscale = alt.Scale(domain=[0, 100], nice=False)
f2_yaxis = lin_axis(100, 20, True, "Colonies per 100 cells", minor=5, label_size=10)
bars = alt.Chart(comp_df).mark_bar(stroke="#444444", strokeWidth=1).encode(
    x=f2_x,
    y=alt.Y("val:Q", stack="zero", scale=f2_yscale, axis=f2_yaxis),
    color=alt.Color("type:N", scale=color_scale, legend=None),
    order=alt.Order("idx:Q", sort="ascending"),
)
nlab = alt.Chart(pd.DataFrame({"cat": GROUP_LABELS, "n": N_LABELS, "val": [100, 100, 100]})).mark_text(
    baseline="bottom", dy=-1, fontSize=10, color="black").encode(
    x=f2_x, y=alt.Y("val:Q", scale=f2_yscale, axis=None), text="n:N")
leg_df = pd.DataFrame({"type": legend_order})
leg_y = alt.Y("type:N", sort=legend_order, axis=None,
              scale=alt.Scale(domain=legend_order, range=[int(H * 0.27), int(H * 0.66)], padding=0))
leg_sq = alt.Chart(leg_df).mark_square(size=120, stroke="black", strokeWidth=1, opacity=1).encode(
    x=alt.value(F2_W + 9), y=leg_y, color=alt.Color("type:N", scale=color_scale, legend=None))
leg_tx = alt.Chart(leg_df).mark_text(align="left", baseline="middle", fontSize=11, color="black").encode(
    x=alt.value(F2_W + 19), y=leg_y, text="type:N")
f2 = alt.layer(bars, nlab, leg_sq, leg_tx).resolve_scale(y="independent").properties(
    width=F2_W, height=H, title=alt.TitleParams("Composition", fontSize=16, offset=1, fontWeight="normal"))
rowF = group([f1, f2], 32, "CFC potential of BM HSPCs", "F", letter_dx=5)

row3 = alt.concat(rowE, rowF, columns=2, spacing=8, align="none")

chart = alt.concat(row1, row2, row3, columns=1, spacing=6, align="none").properties(
    padding={"left": 0, "top": 0, "right": 0, "bottom": 0}
).configure_view(stroke=None).configure_axis(
    grid=False, domainColor="black", tickColor="black", labelColor="black", titleColor="black",
    labelFont=FONT, titleFont=FONT, titleFontSize=14, titleFontWeight="normal", domainWidth=1.3,
    tickWidth=1.3, tickSize=5, labelPadding=2, titlePadding=4,
).configure_title(font=FONT, color="black").configure_text(font=FONT)

chart.save("out.html", embed_options={"renderer": "svg", "actions": False})
